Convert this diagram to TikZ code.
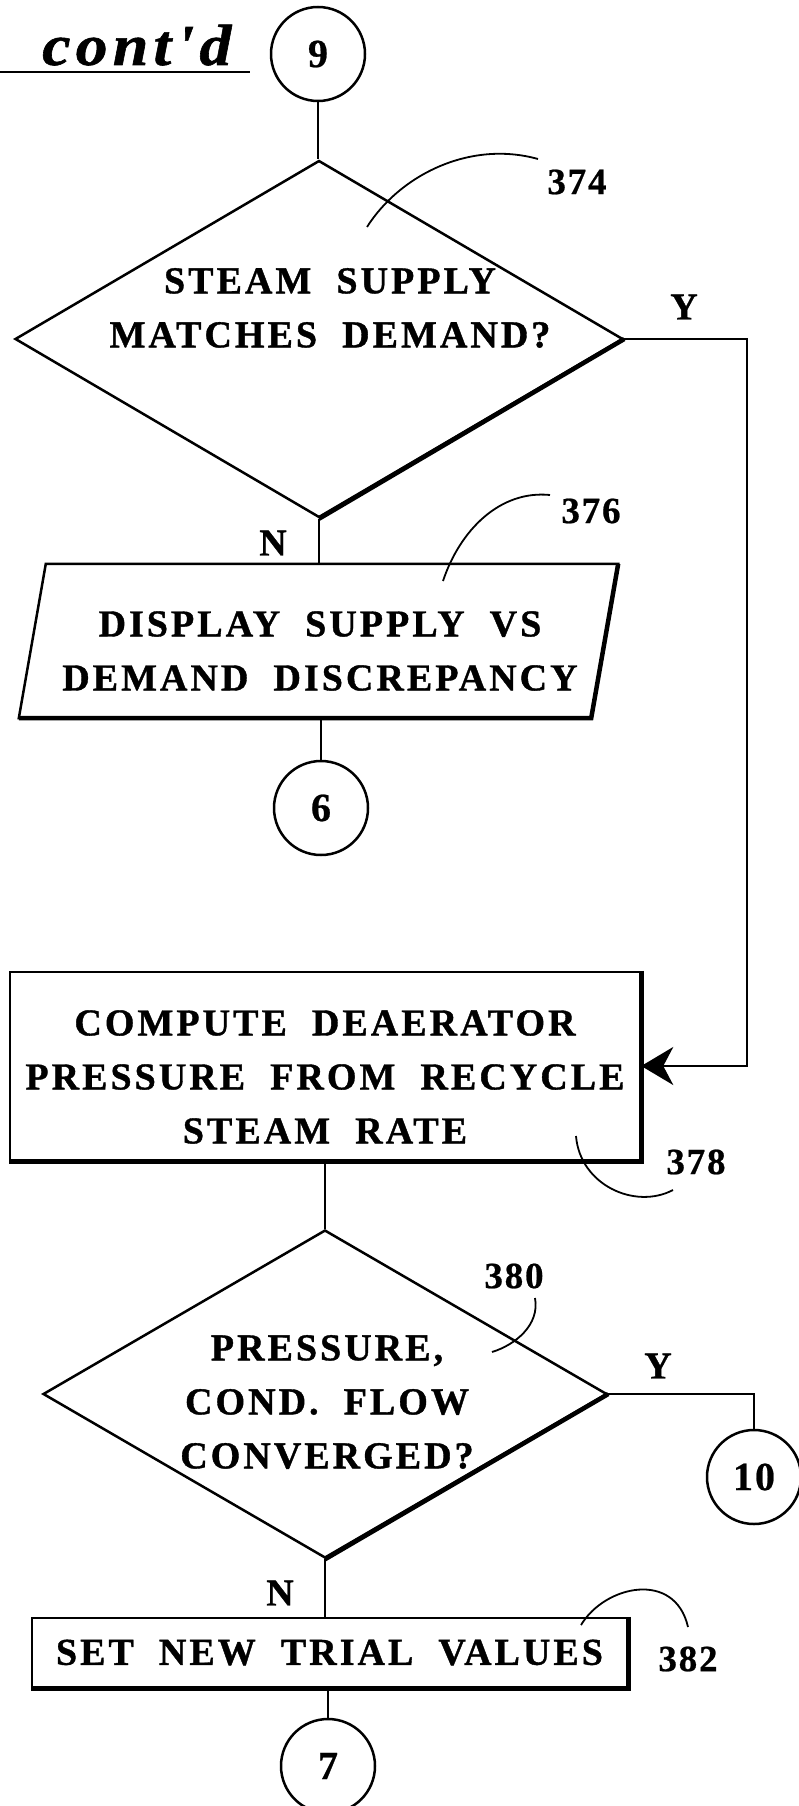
\documentclass[tikz,border=0pt]{standalone}
\usepackage{fontspec}
\setmainfont{Liberation Serif}
\newfontfamily\flowfont[LetterSpace=8,WordSpace=2,BoldFeatures={FakeBold=1}]{Liberation Serif}
\newfontfamily\numfont[LetterSpace=5,BoldFeatures={FakeBold=0.6}]{Liberation Serif}
\newfontfamily\contfont[LetterSpace=9,FakeStretch=1.1,BoldItalicFeatures={FakeBold=1}]{Liberation Serif}
\usetikzlibrary{shapes.geometric,arrows.meta}
\tikzset{
  flow/.style={line width=2.5pt},
  heavy/.style={line width=4.5pt},
  leader/.style={line width=1.8pt},
  maintext/.style={font={\flowfont\bfseries\fontsize{38}{54}\selectfont}, align=center, inner sep=0pt},
  decision/.style={diamond, draw, line width=2.5pt, inner sep=0pt},
  proc/.style={rectangle, draw, line width=2.5pt, inner sep=0pt},
  conn/.style={circle, draw, line width=2.5pt, minimum size=94pt, inner sep=0pt, font={\numfont\bfseries\fontsize{40}{40}\selectfont}},
  refnum/.style={font={\numfont\bfseries\fontsize{37}{37}\selectfont}, inner sep=0pt},
  yn/.style={font={\flowfont\bfseries\fontsize{38}{38}\selectfont}, inner sep=0pt},
  arrowtip/.style={-{Stealth[length=32pt,width=38pt,inset=10pt]}}
}
\begin{document}
\begin{tikzpicture}[x=1pt,y=-1pt]
\fill[white] (0,0) rectangle (799,1806);
\useasboundingbox (0,0) rectangle (799,1806);

% header
\node[font={\contfont\bfseries\itshape\fontsize{58}{58}\selectfont}, anchor=base west, inner sep=0pt] (contd) at (42,65) {cont'd};
\coordinate (ulA) at (0,72);
\coordinate (ulB) at (250,72);
\draw[flow] (ulA) -- (ulB);

% connectors (circles)
\node[conn] (c9) at (318,54) {9};
\node[conn] (c6) at (321,808) {6};
\node[conn] (c10) at (754,1477) {10};
\node[conn] (c7) at (328,1766) {7};

% decision 374
\node[decision, minimum width=608pt, minimum height=357pt, aspect=1.7] (d374) at (319,339) {};
\node[maintext] (t374) at (330,308) {STEAM SUPPLY\\MATCHES DEMAND?};
\draw[heavy] (d374.east) -- (d374.south);

% display 376
\node[minimum width=599pt, minimum height=154pt, inner sep=0pt] (p376) at (318.5,641) {};
\draw[flow] ([xshift=27pt]p376.north west) -- (p376.north east) -- ([xshift=-27pt]p376.south east) -- (p376.south west) -- cycle;
\draw[heavy] (p376.north east) -- ([xshift=-27pt]p376.south east) -- (p376.south west);
\node[maintext] (t376) at (320,651) {DISPLAY SUPPLY VS\\DEMAND DISCREPANCY};

% process 378
\node[proc, minimum width=630pt, minimum height=188pt] (b378) at (325,1066) {};
\draw[heavy] (b378.north east) -- (b378.south east) -- (b378.south west);
\node[maintext] (t378) at (325,1077) {COMPUTE DEAERATOR\\PRESSURE FROM RECYCLE\\STEAM RATE};

% decision 380
\node[decision, minimum width=564pt, minimum height=328pt, aspect=1.72] (d380) at (325,1394) {};
\draw[heavy] (d380.east) -- (d380.south);
\node[maintext] (t380) at (327,1402) {PRESSURE,\\COND. FLOW\\CONVERGED?};

% process 382
\node[proc, minimum width=595pt, minimum height=69pt, maintext] (b382) at (329.5,1652.5) {SET NEW TRIAL VALUES};
\draw[heavy] (b382.north east) -- (b382.south east) -- (b382.south west);

% flow lines
\draw[flow] (c9.south) -- (c9.south |- d374.north);
\draw[flow] (d374.south) -- (d374.south |- p376.north);
\draw[flow] (p376.south -| c6.north) -- (c6.north);
\draw[flow] (b378.south -| d380.north) -- (d380.north);
\draw[flow] (d380.south) -- (d380.south |- b382.north);
\draw[flow] (b382.south -| c7.north) -- (c7.north);

\coordinate (yrail) at (747,339);
\draw[flow, arrowtip] (d374.east) -- (yrail) |- (b378.east);
\draw[flow] (d380.east) -| (c10.north);

% Y / N labels
\node[yn] (y1) at (684,307) {Y};
\node[yn] (n1) at (273,543) {N};
\node[yn] (y2) at (658,1366) {Y};
\node[yn] (n2) at (280,1593) {N};

% reference numerals and leaders
\node[refnum] (r374) at (577,182) {374};
\node[refnum] (r376) at (591,511) {376};
\node[refnum] (r378) at (696,1162) {378};
\node[refnum] (r380) at (514,1276) {380};
\node[refnum] (r382) at (688,1659) {382};

\coordinate (l374a) at (367,227);
\coordinate (l374b) at (538,159);
\draw[leader] (l374a) .. controls (400,175) and (470,140) .. (l374b);
\coordinate (l376a) at (443,581);
\coordinate (l376b) at (550,495);
\draw[leader] (l376a) .. controls (460,530) and (500,490) .. (l376b);
\coordinate (l378a) at (576,1136);
\coordinate (l378b) at (673,1190);
\draw[leader] (l378a) .. controls (580,1185) and (635,1210) .. (l378b);
\coordinate (l380a) at (535,1298);
\coordinate (l380b) at (492,1352);
\draw[leader] (l380a) .. controls (540,1325) and (515,1345) .. (l380b);
\coordinate (l382a) at (581,1625);
\coordinate (l382b) at (688,1627);
\draw[leader] (l382a) .. controls (605,1585) and (675,1570) .. (l382b);
\end{tikzpicture}
\end{document}
